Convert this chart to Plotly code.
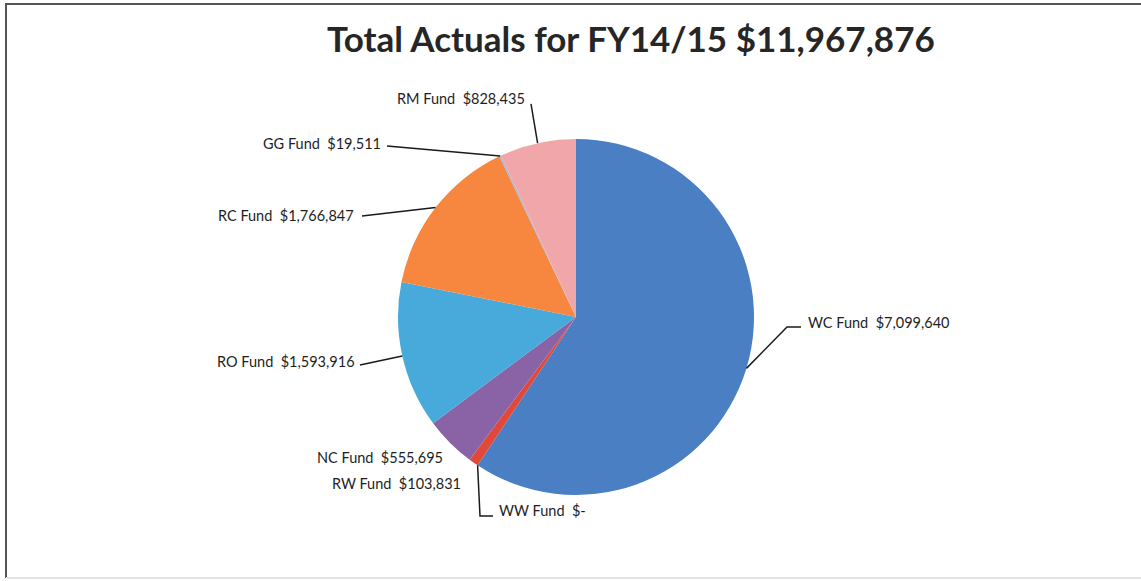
import math
import plotly.graph_objects as go

# data
funds = ["WC Fund", "WW Fund", "RW Fund", "NC Fund", "RO Fund", "RC Fund", "GG Fund", "RM Fund"]
actuals = [7099640, 0, 103831, 555695, 1593916, 1766847, 19511, 828435]
value_text = ["$7,099,640", "$-", "$103,831", "$555,695", "$1,593,916", "$1,766,847", "$19,511", "$828,435"]
colors = ["#4a7fc4", "#8fb0d8", "#e0483a", "#8a63a6", "#47aadb", "#f7863f", "#a9b6d6", "#f1a6aa"]
title = "Total Actuals for FY14/15 $11,967,876"

W, H = 1141, 581
CX, CY, R = 576, 317, 178  # pie centre and radius in pixels

# label layout: text anchor (px), anchor side, leader bend points (px) or None
label_pos = {
    "WC Fund": (806, 322, "left", [(787, 327), (801, 327)]),
    "WW Fund": (497, 511, "left", [(480, 516), (493, 516)]),
    "RW Fund": (463, 483, "right", None),
    "NC Fund": (445, 457, "right", None),
    "RO Fund": (357, 361, "right", [(360, 365)]),
    "RC Fund": (356, 215, "right", [(362, 216)]),
    "GG Fund": (383, 143, "right", [(387, 146)]),
    "RM Fund": (527, 98, "right", [(531, 104)]),
}


def px(x):
    return x / W


def py(y):
    return 1 - y / H


fig = go.Figure(go.Pie(
    labels=funds, values=actuals, sort=False, direction="clockwise", rotation=0,
    marker=dict(colors=colors, line=dict(width=0)),
    textinfo="none", hoverinfo="label+value", showlegend=False,
    domain=dict(x=[px(CX - R), px(CX + R)], y=[py(CY + R), py(CY - R)]),
))

total = sum(actuals)
# frame: dark top and left edges, faint bottom edge
shapes = [
    dict(type="path", xref="paper", yref="paper",
         path=f"M {px(1200):.5f},{py(4):.5f} L {px(6):.5f},{py(4):.5f} L {px(6):.5f},{py(578):.5f}",
         line=dict(color="#555555", width=2), layer="below"),
    dict(type="line", xref="paper", yref="paper", x0=px(6), x1=px(1200), y0=py(578), y1=py(578),
         line=dict(color="#e2e2e2", width=2), layer="below"),
]
annotations = [dict(text="<b>" + title + "</b>", x=px(631), y=py(38), xref="paper", yref="paper",
                    xanchor="center", yanchor="middle",
                    showarrow=False, font=dict(family="Lato", size=35, color="#262626"))]

cum = 0
for name, val, vt in zip(funds, actuals, value_text):
    mid = (cum + val / 2) / total * 2 * math.pi
    cum += val
    ex, ey = CX + R * math.sin(mid), CY - R * math.cos(mid)
    tx, ty, side, bends = label_pos[name]
    annotations.append(dict(text=name + "\u00a0 " + vt, x=px(tx), y=py(ty), xref="paper", yref="paper",
                            xanchor=side, yanchor="middle", showarrow=False,
                            font=dict(family="Lato", size=14.5, color="#1e1e1e")))
    if bends:
        pts = [(ex, ey)] + bends
        path = "M " + " L ".join(f"{px(x):.5f},{py(y):.5f}" for x, y in pts)
        shapes.append(dict(type="path", xref="paper", yref="paper", path=path,
                           line=dict(color="#1a1a1a", width=1.5)))

fig.update_layout(width=W, height=H, margin=dict(l=0, r=0, t=0, b=0),
                  paper_bgcolor="white", plot_bgcolor="white",
                  shapes=shapes, annotations=annotations)

fig.write_html("out.html", config={"displayModeBar": False},
               post_script="document.body.style.margin='0px';document.body.style.overflow='hidden';")
